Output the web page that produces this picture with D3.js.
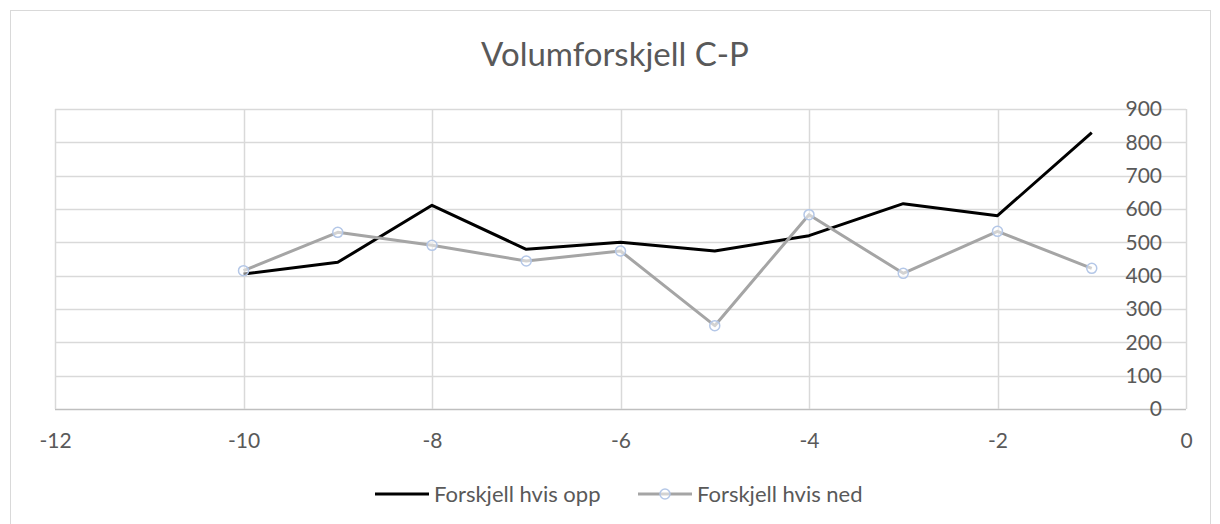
<!DOCTYPE html>
<html>
<head>
<meta charset="utf-8">
<script src="https://cdn.jsdelivr.net/npm/d3@7"></script>
<style>
  body { margin: 0; background: #fff; }
  svg { display: block; font-family: Lato, "Open Sans", sans-serif; }
</style>
</head>
<body>
<svg width="1220" height="524"></svg>
<script>
// chart data
var title = 'Volumforskjell C-P';
var seriesNames = ['Forskjell hvis opp', 'Forskjell hvis ned'];
var xValues = [-10, -9, -8, -7, -6, -5, -4, -3, -2, -1];
var opp = [405, 440, 611, 479, 500, 474, 520, 616, 580, 829];
var ned = [415, 530, 491, 444, 474, 250, 583, 407, 533, 422];
var xTicks = [-12, -10, -8, -6, -4, -2, 0];
var yTicks = [0, 100, 200, 300, 400, 500, 600, 700, 800, 900];

var svg = d3.select('svg');
var textColor = '#595959';
var gridColor = '#d9d9d9';

// outer chart frame
svg.append('rect')
  .attr('x', 10.5).attr('y', 10.5)
  .attr('width', 1200).attr('height', 530)
  .attr('fill', 'none').attr('stroke', gridColor);

var x = d3.scaleLinear().domain([-12, 0]).range([55, 1186]);
var y = d3.scaleLinear().domain([0, 900]).range([409, 109]);

svg.append('text')
  .attr('x', 615).attr('y', 66)
  .attr('text-anchor', 'middle')
  .attr('font-size', 33)
  .attr('fill', textColor)
  .text(title);

// gridlines
svg.append('g').selectAll('line').data(yTicks).enter().append('line')
  .attr('x1', x(-12)).attr('x2', x(0))
  .attr('y1', function(d){ return Math.round(y(d)) + 0.5; })
  .attr('y2', function(d){ return Math.round(y(d)) + 0.5; })
  .attr('stroke', function(d){ return d === 0 ? '#bfbfbf' : gridColor; })
  .attr('stroke-width', 1.5);

svg.append('g').selectAll('line').data(xTicks).enter().append('line')
  .attr('x1', function(d){ return Math.round(x(d)) + 0.5; })
  .attr('x2', function(d){ return Math.round(x(d)) + 0.5; })
  .attr('y1', y(900)).attr('y2', y(0))
  .attr('stroke', gridColor)
  .attr('stroke-width', 1.5);

// axes labels (plain hyphen minus, like the original)
var plain = function(d){ return String(d); };

var xAxis = d3.axisBottom(x).tickValues(xTicks).tickFormat(plain).tickSize(0).tickPadding(0);
var gx = svg.append('g').attr('transform', 'translate(0,441)').call(xAxis);
gx.select('.domain').remove();
gx.selectAll('text')
  .attr('dy', '0.35em').attr('y', 0)
  .attr('font-size', 21).attr('font-family', 'Lato').attr('fill', textColor);

var yAxis = d3.axisLeft(y).tickValues(yTicks).tickFormat(plain).tickSize(0).tickPadding(24);
var gy = svg.append('g').attr('transform', 'translate(1186,0)').call(yAxis);
gy.select('.domain').remove();
gy.selectAll('text')
  .attr('font-size', 21).attr('font-family', 'Lato').attr('fill', textColor);

// lines
var line = d3.line()
  .x(function(d){ return x(d[0]); })
  .y(function(d){ return y(d[1]); });

svg.append('path')
  .datum(d3.zip(xValues, opp))
  .attr('d', line)
  .attr('fill', 'none').attr('stroke', '#000')
  .attr('stroke-width', 3).attr('stroke-linejoin', 'round');

svg.append('path')
  .datum(d3.zip(xValues, ned))
  .attr('d', line)
  .attr('fill', 'none').attr('stroke', '#a5a5a5')
  .attr('stroke-width', 3).attr('stroke-linejoin', 'round');

svg.append('g').selectAll('circle').data(d3.zip(xValues, ned)).enter().append('circle')
  .attr('cx', function(d){ return x(d[0]); })
  .attr('cy', function(d){ return y(d[1]); })
  .attr('r', 5)
  .attr('fill', '#fff').attr('fill-opacity', 0.5)
  .attr('stroke', '#b4c7e7').attr('stroke-width', 1.5);

// legend
var legend = svg.append('g').attr('transform', 'translate(0,494)');
legend.append('line')
  .attr('x1', 375).attr('x2', 429).attr('y1', 0).attr('y2', 0)
  .attr('stroke', '#000').attr('stroke-width', 3);
legend.append('text')
  .attr('x', 434).attr('dy', '0.35em')
  .attr('font-size', 22).attr('fill', textColor)
  .text(seriesNames[0]);
legend.append('line')
  .attr('x1', 638).attr('x2', 692).attr('y1', 0).attr('y2', 0)
  .attr('stroke', '#a5a5a5').attr('stroke-width', 3);
legend.append('circle')
  .attr('cx', 665).attr('cy', 0).attr('r', 5)
  .attr('fill', '#fff').attr('fill-opacity', 0.5)
  .attr('stroke', '#b4c7e7').attr('stroke-width', 1.5);
legend.append('text')
  .attr('x', 697).attr('dy', '0.35em')
  .attr('font-size', 22).attr('fill', textColor)
  .text(seriesNames[1]);
</script>
</body>
</html>
